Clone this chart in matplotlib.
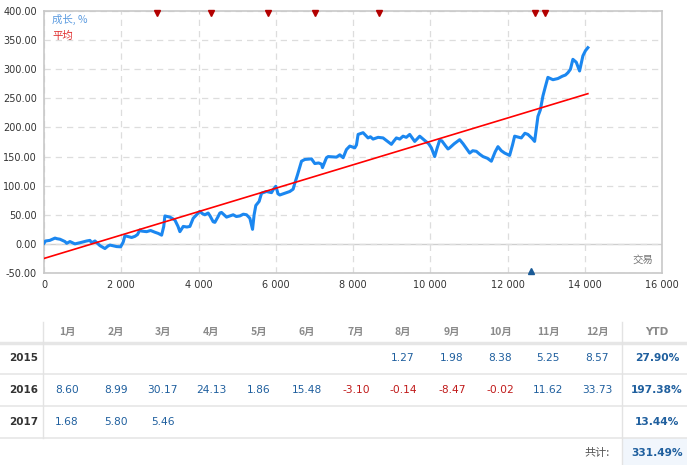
import matplotlib
matplotlib.use("Agg")
import matplotlib.pyplot as plt
from matplotlib.ticker import FuncFormatter, MultipleLocator

plt.rcParams['font.family'] = ['DejaVu Sans', 'Noto Sans CJK SC']

# growth curve: trade number -> growth %
trades = [0, 40, 150, 285, 330, 414, 543, 587, 672, 800, 931, 1105, 1190, 1233, 1320,
          1449, 1578, 1650, 1707, 1880, 1984, 2050, 2095, 2268, 2354, 2420, 2484, 2527,
          2656, 2760, 2872, 2958, 3045, 3100, 3130, 3260, 3389, 3470, 3518, 3605, 3700,
          3777, 3863, 3906, 4036, 4100, 4165, 4250, 4300, 4380, 4424, 4500, 4553, 4596,
          4726, 4898, 4980, 5070, 5160, 5244, 5330, 5399, 5440, 5484, 5570, 5632, 5761,
          5890, 5933, 6002, 6060, 6105, 6235, 6364, 6450, 6493, 6560, 6667, 6752, 6925,
          7011, 7110, 7184, 7210, 7313, 7357, 7572, 7659, 7745, 7830, 7917, 8046, 8090,
          8132, 8261, 8390, 8450, 8520, 8650, 8778, 8994, 9050, 9123, 9210, 9296, 9380,
          9468, 9598, 9727, 9850, 9960, 10029, 10115, 10180, 10244, 10300, 10400, 10460,
          10503, 10620, 10762, 10850, 11021, 11100, 11193, 11280, 11365, 11480, 11582,
          11680, 11753, 11840, 11926, 12055, 12130, 12185, 12357, 12450, 12529, 12640,
          12702, 12750, 12788, 12850, 12917, 12980, 13046, 13176, 13305, 13420, 13500,
          13564, 13630, 13693, 13780, 13866, 13952, 14020, 14081]
growth = [1, 5, 6, 10, 9, 8, 4, 1, 4, 0, 2, 5, 6, 2, 5,
          -3, -8, -4, -2, -4.6, -5, 3, 14, 11, 13, 16, 24, 22,
          21, 23, 20, 18, 15, 30, 48, 46, 41, 30, 21, 30, 29,
          30, 44, 47, 56, 52, 50, 53, 48, 38, 37, 46, 53, 54,
          46, 50, 47, 48, 51, 50, 44, 25, 50, 66, 73, 87, 90,
          88, 93, 99, 86, 84, 87, 90, 94, 104, 118, 142, 145, 146,
          138, 139, 137, 131, 148, 150, 149, 153, 148, 162, 168, 165, 170,
          188, 191, 182, 184, 180, 183, 182, 171, 176, 182, 180, 185, 183,
          188, 176, 185, 178, 172, 165, 150, 165, 178, 177, 168, 163,
          165, 172, 179, 172, 156, 160, 159, 154, 150, 147, 142,
          158, 167, 160, 156, 152, 170, 185, 182, 190, 188, 181,
          176, 200, 219, 230, 254, 270, 286, 282, 284, 288, 290,
          294, 300, 317, 312, 297, 323, 332, 337]

avg_x = [0, 14081]
avg_y = [-25, 258]

sell_marks = [2916, 4321, 5796, 7012, 8668, 12704, 12963]
buy_marks = [12600]

months = ['1月', '2月', '3月', '4月', '5月', '6月', '7月', '8月', '9月', '10月', '11月', '12月']
years = ['2015', '2016', '2017']
monthly = [
    [None, None, None, None, None, None, None, 1.27, 1.98, 8.38, 5.25, 8.57],
    [8.60, 8.99, 30.17, 24.13, 1.86, 15.48, -3.10, -0.14, -8.47, -0.02, 11.62, 33.73],
    [1.68, 5.80, 5.46, None, None, None, None, None, None, None, None, None],
]
ytd = ['27.90%', '197.38%', '13.44%']
total_label = '共计:'
total = '331.49%'

W, H = 687, 465
fig = plt.figure(figsize=(W / 100, H / 100), dpi=100)
ax = fig.add_axes([44 / W, 1 - 273 / H, (662 - 44) / W, (273 - 11) / H])

ax.plot(trades, growth, color='#1b87f0', lw=2.2, solid_joinstyle='round', zorder=3)
ax.plot(avg_x, avg_y, color='#ff0000', lw=1.2, zorder=4)
ax.axhline(0, color='#cfcfcf', lw=1, zorder=1)

ax.plot(sell_marks, [397] * len(sell_marks), 'v', color='#b30000', ms=5, clip_on=False, zorder=5)
ax.plot(buy_marks, [-47] * len(buy_marks), '^', color='#1a5a96', ms=5, clip_on=False, zorder=5)

ax.set_xlim(0, 16000)
ax.set_ylim(-50, 400)
ax.xaxis.set_major_locator(MultipleLocator(2000))
ax.yaxis.set_major_locator(MultipleLocator(50))
ax.xaxis.set_major_formatter(FuncFormatter(lambda v, p: f'{int(v):,}'.replace(',', ' ')))
ax.yaxis.set_major_formatter(FuncFormatter(lambda v, p: f'{v:.2f}'))
ax.tick_params(length=0, labelsize=7, colors='#333333', pad=5)
ax.grid(True, color='#dddddd', ls=(0, (5, 4)), lw=0.9)
for s in ax.spines.values():
    s.set_color('#c8c8c8')
    s.set_linewidth(1.2)

cjk = ['Noto Sans CJK SC', 'DejaVu Sans']
ax.text(0.013, 0.969, '成长, %', transform=ax.transAxes, color='#5b9be0', fontsize=7.5,
        family=cjk, va='center')
ax.text(0.013, 0.905, '平均', transform=ax.transAxes, color='#e03030', fontsize=7.5,
        family=cjk, va='center')
ax.text(0.985, 0.03, '交易', transform=ax.transAxes, color='#777777', fontsize=7.5,
        family=cjk, ha='right', va='bottom')

# table below the chart, drawn in pixel coordinates
tb = fig.add_axes([0, 0, 1, 1])
tb.set_xlim(0, W)
tb.set_ylim(H, 0)
tb.axis('off')

col_x = [67, 116, 163, 211, 259, 307, 356, 403, 452, 500, 548, 597]
row_y = [358, 390, 422]
head_y = 332

tb.add_patch(plt.Rectangle((622, 438), W - 622, H - 438, color='#f1f6fc', lw=0))
tb.plot([0, W], [343, 343], color='#e6e6e6', lw=2.5)
for y in [374, 406, 438]:
    tb.plot([0, W], [y, y], color='#e6e6e6', lw=1.2)
tb.plot([43, 43], [322, 438], color='#e3e3e3', lw=1)
tb.plot([622, 622], [322, H], color='#e3e3e3', lw=1)

for x, m in zip(col_x, months):
    tb.text(x, head_y, m, ha='center', va='center', fontsize=7.5, color='#8a8a8a',
            family=cjk, fontweight='bold')
tb.text(657, head_y, 'YTD', ha='center', va='center', fontsize=7.5, color='#8a8a8a',
        fontweight='bold')

for y, yr, vals, tot in zip(row_y, years, monthly, ytd):
    tb.text(9, y, yr, ha='left', va='center', fontsize=7.5, color='#333333', fontweight='bold')
    for x, v in zip(col_x, vals):
        if v is None:
            continue
        c = '#c01a1a' if v < 0 else '#1f5f9e'
        tb.text(x, y, f'{v:.2f}', ha='center', va='center', fontsize=7.7, color=c)
    tb.text(657, y, tot, ha='center', va='center', fontsize=7.7, color='#1f5f9e',
            fontweight='bold')

tb.text(610, 453, total_label, ha='right', va='center', fontsize=8, color='#555555', family=cjk)
tb.text(657, 453, total, ha='center', va='center', fontsize=7.7, color='#1f5f9e', fontweight='bold')

fig.savefig('out.png', dpi=100)
